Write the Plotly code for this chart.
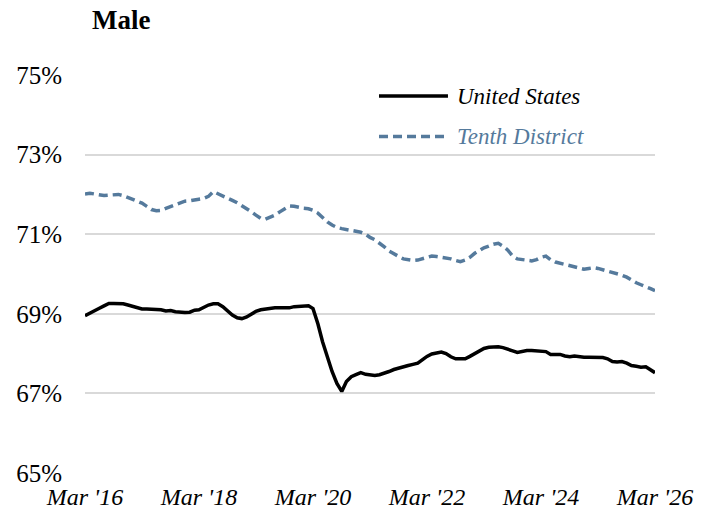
import pandas as pd
import plotly.graph_objects as go

months = pd.date_range("2016-03-01", periods=121, freq="MS")

us_values = [
    68.95, 69.02, 69.08, 69.14, 69.2, 69.26, 69.26, 69.26, 69.25, 69.22,
    69.18, 69.15, 69.12, 69.12, 69.12, 69.11, 69.1, 69.07, 69.08, 69.05,
    69.03, 69.03, 69.04, 69.09, 69.1, 69.16, 69.22, 69.25, 69.25, 69.18,
    69.07, 68.97, 68.9, 68.88, 68.92, 69.0, 69.06, 69.1, 69.12, 69.14,
    69.15, 69.15, 69.14, 69.15, 69.18, 69.19, 69.19, 69.2, 69.13, 68.75,
    68.3, 67.9, 67.55, 67.25, 67.05, 67.3, 67.42, 67.47, 67.52, 67.48,
    67.46, 67.45, 67.47, 67.5, 67.55, 67.6, 67.64, 67.66, 67.7, 67.73,
    67.76, 67.85, 67.93, 67.99, 68.02, 68.04, 68.0, 67.92, 67.87, 67.86,
    67.87, 67.93, 68.0, 68.07, 68.13, 68.16, 68.17, 68.17, 68.15, 68.12,
    68.07, 68.03, 68.06, 68.08, 68.08, 68.07, 68.07, 68.05, 67.98, 67.97,
    67.98, 67.94, 67.92, 67.94, 67.92, 67.91, 67.91, 67.91, 67.91, 67.9,
    67.87, 67.8, 67.79, 67.8, 67.76, 67.7, 67.68, 67.66, 67.67, 67.6, 67.52,
]

tenth_values = [
    72.01, 72.03, 72.01, 71.98, 71.97, 71.98, 72.0, 72.0, 71.97, 71.92,
    71.87, 71.82, 71.78, 71.7, 71.62, 71.59, 71.6, 71.65, 71.7, 71.75,
    71.79, 71.83, 71.84, 71.85, 71.88, 71.9, 71.95, 72.07, 72.02, 71.96,
    71.9, 71.85, 71.79, 71.72, 71.63, 71.56, 71.48, 71.4, 71.38, 71.42,
    71.48, 71.56, 71.65, 71.71, 71.7, 71.67, 71.65, 71.64, 71.6, 71.53,
    71.42, 71.31, 71.23, 71.17, 71.14, 71.12, 71.09, 71.08, 71.05, 71.0,
    70.92, 70.86, 70.78, 70.68, 70.58, 70.5, 70.44, 70.38, 70.35, 70.34,
    70.35, 70.38, 70.42, 70.45, 70.44, 70.42, 70.41, 70.38, 70.34, 70.31,
    70.35, 70.42, 70.52, 70.6, 70.66, 70.7, 70.75, 70.77, 70.7, 70.6,
    70.45, 70.38, 70.36, 70.34, 70.33, 70.36, 70.42, 70.45, 70.36, 70.3,
    70.27, 70.24, 70.2, 70.16, 70.13, 70.12, 70.14, 70.16, 70.14, 70.11,
    70.08, 70.05, 70.01, 69.97, 69.92, 69.84, 69.78, 69.73, 69.69, 69.63, 69.58,
]

x_tick_dates = ["2016-03-01", "2018-03-01", "2020-03-01", "2022-03-01", "2024-03-01", "2026-03-01"]
x_tick_labels = ["Mar '16", "Mar '18", "Mar '20", "Mar '22", "Mar '24", "Mar '26"]
y_ticks = [65, 67, 69, 71, 73, 75]
y_tick_labels = ["65%", "67%", "69%", "71%", "73%", "75%"]

series_names = ["United States", "Tenth District"]
US_COLOR = "#000000"
TENTH_COLOR = "#557a9c"
DASH = "9px,5px"
FONT = "Liberation Serif"

fig = go.Figure()
fig.add_trace(go.Scatter(x=months, y=tenth_values, mode="lines", name=series_names[1],
                         line=dict(color=TENTH_COLOR, width=3.5, dash=DASH), showlegend=False))
fig.add_trace(go.Scatter(x=months, y=us_values, mode="lines", name=series_names[0],
                         line=dict(color=US_COLOR, width=3.5), showlegend=False))

# manual legend (paper coordinates)
legend_items = [
    (series_names[0], US_COLOR, None, 0.945),
    (series_names[1], TENTH_COLOR, DASH, 0.844),
]
for name, color, dash, yy in legend_items:
    line = dict(color=color, width=3.5)
    if dash:
        line["dash"] = dash
    fig.add_shape(type="line", xref="paper", yref="paper", x0=0.5158, x1=0.6368,
                  y0=yy, y1=yy, line=line)
    fig.add_annotation(xref="paper", yref="paper", x=0.649, y=yy, xanchor="left",
                       yanchor="middle", showarrow=False, text=f"<i>{name}</i>",
                       font=dict(family=FONT, size=23, color=color))

fig.update_layout(
    width=711, height=525,
    margin=dict(l=85, r=56, t=74, b=51),
    paper_bgcolor="white", plot_bgcolor="white",
    font=dict(family=FONT, size=24, color="#000000"),
    title=dict(text="<b>Male</b>", x=92 / 711, xref="container", xanchor="left",
               y=1 - 20 / 525, yref="container", yanchor="middle",
               font=dict(family=FONT, size=27, color="#000000")),
    showlegend=False,
)
fig.update_xaxes(
    range=["2016-03-01", "2026-03-01"],
    tickmode="array", tickvals=x_tick_dates, ticktext=[f"<i>{t}</i>" for t in x_tick_labels],
    showgrid=False, zeroline=False, showline=False, ticks="",
    tickfont=dict(family=FONT, size=24, color="#000000"),
    ticklabelstandoff=6,
)
fig.update_yaxes(
    range=[64.975, 75.025], tickmode="array", tickvals=y_ticks, ticktext=y_tick_labels,
    showgrid=True, gridcolor="#d9d9d9", gridwidth=2, zeroline=False, showline=False, ticks="",
    tickfont=dict(family=FONT, size=25, color="#000000"),
    ticklabelstandoff=22,
)

fig.write_html("out.html", config={"displayModeBar": False},
               post_script="document.body.style.margin='0';")
